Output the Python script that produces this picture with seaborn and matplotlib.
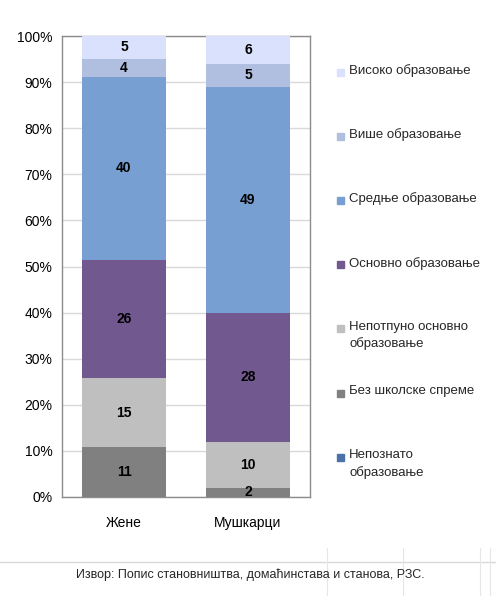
import matplotlib
matplotlib.use("Agg")
import matplotlib.pyplot as plt
import matplotlib.ticker as mticker
from matplotlib.patches import Rectangle
from matplotlib.lines import Line2D
import seaborn as sns
import pandas as pd
import numpy as np

# Подаци (%), редослед одоздо нагоре
groups = ["Жене", "Мушкарци"]
levels = ["Непознато\nобразовање", "Без школске спреме", "Непотпуно основно\nобразовање",
          "Основно образовање", "Средње образовање", "Више образовање", "Високо образовање"]
zene = [0, 11, 15, 26, 40, 4, 5]
muskarci = [0, 2, 10, 28, 49, 5, 6]
colors = ["#4A72A8", "#808080", "#BFBFBF", "#71588F", "#779FD2", "#B0BFDF", "#D9E1FC"]

sns.set_style("white")
plt.rcParams["font.family"] = ["Liberation Sans Narrow", "Liberation Sans", "DejaVu Sans"]

df = pd.DataFrame({"Жене": zene, "Мушкарци": muskarci}, index=levels)
share = df / df.sum() * 100

fig = plt.figure(figsize=(5.03, 5.96), dpi=100)
ax = fig.add_axes([62 / 503, 1 - 497 / 596, 248 / 503, 461 / 596])

bottom = np.zeros(len(groups))
for lev, col in zip(levels, colors):
    vals = share.loc[lev].values
    sns.barplot(x=groups, y=vals, color=col, width=0.67, bottom=bottom,
                ax=ax, saturation=1, linewidth=0, zorder=3)
    for i, (v, raw) in enumerate(zip(vals, df.loc[lev].values)):
        if raw > 0:
            ax.text(i, bottom[i] + v / 2, f"{raw}", ha="center", va="center",
                    fontsize=10, fontweight="bold", color="black", zorder=4)
    bottom = bottom + vals

ax.set_xlim(-0.5, 1.5)
ax.set_ylim(0, 100)
ax.set_yticks(range(0, 101, 10))
ax.yaxis.set_major_formatter(mticker.FuncFormatter(lambda v, _: f"{int(v)}%"))
ax.tick_params(axis="both", labelsize=10, length=0, colors="black")
ax.tick_params(axis="y", pad=7)
ax.tick_params(axis="x", pad=14)
ax.set_xlabel("")
ax.set_ylabel("")
ax.grid(axis="y", color="#D9D9D9", linewidth=1, zorder=0)
for s in ax.spines.values():
    s.set_color("#8C8C8C")
    s.set_linewidth(1)

# легенда
for i, (lev, col) in enumerate(zip(levels[::-1], colors[::-1])):
    ypx = 72 + 64.2 * i
    fig.patches.append(Rectangle((337 / 503, 1 - (ypx + 3.5) / 596), 7 / 503, 7 / 596,
                                 transform=fig.transFigure, color=col))
    fig.text(349 / 503, 1 - (ypx - 8) / 596, lev, ha="left", va="top",
             fontsize=9.5, linespacing=1.45)

# доња линија и извор
fig.add_artist(Line2D([0, 495 / 503], [1 - 562 / 596] * 2, color="#D9D9D9", lw=1,
                      transform=fig.transFigure))
for xp in [327, 403, 480, 490]:
    fig.add_artist(Line2D([xp / 503] * 2, [0, 1 - 548 / 596], color="#E6E6E6", lw=0.8,
                          transform=fig.transFigure))
fig.text(250 / 503, 1 - 575 / 596, "Извор: Попис становништва, домаћинстава и станова, РЗС.",
         ha="center", va="center", fontsize=9)

fig.savefig("out.png", dpi=100)
